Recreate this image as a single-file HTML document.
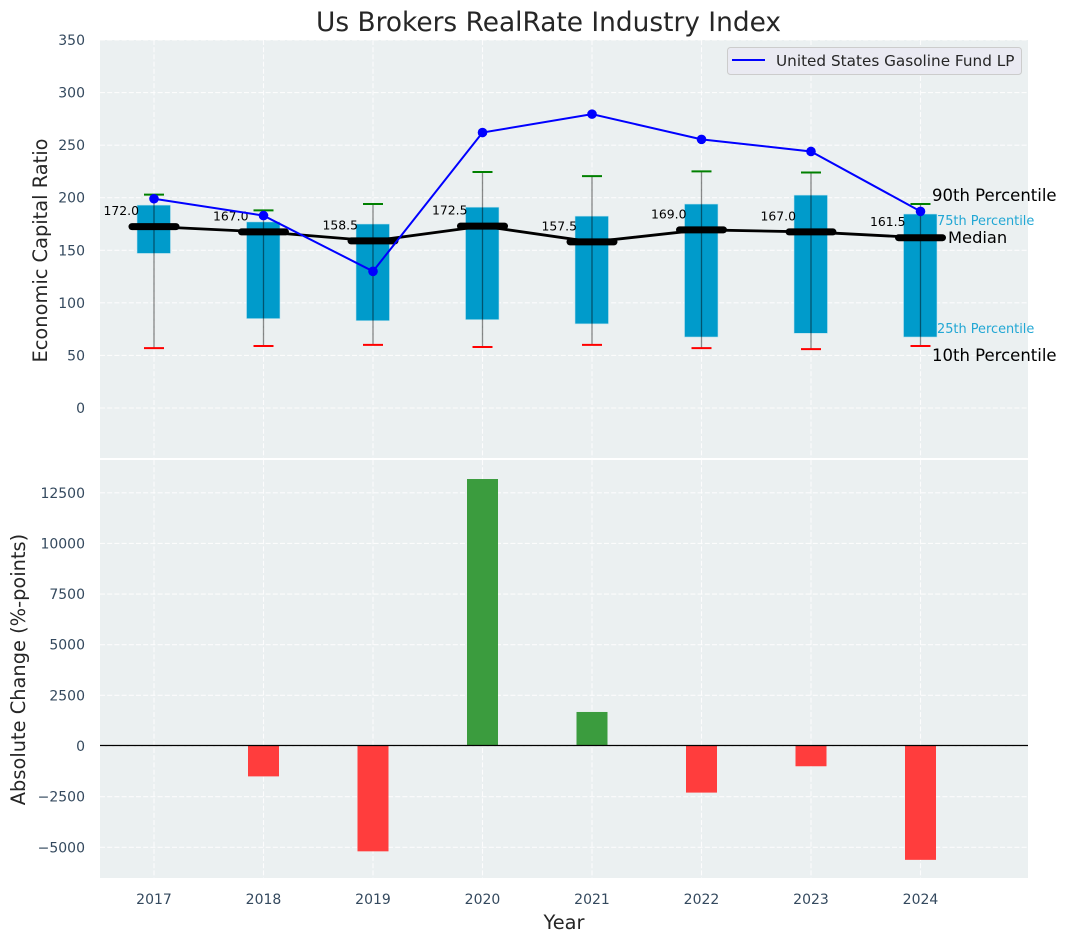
<!DOCTYPE html>
<html lang="en">
<head>
<meta charset="utf-8">
<title>Us Brokers RealRate Industry Index</title>
<style>
html,body{margin:0;padding:0;background:#fff;}
body{width:1067px;height:942px;overflow:hidden;}
svg{display:block;font-family:"DejaVu Sans","Liberation Sans",sans-serif;}
</style>
</head>
<body>
<svg id="chart" xmlns="http://www.w3.org/2000/svg" width="1067" height="942" viewBox="0 0 1067 942">
  <rect x="100" y="40" width="928" height="418" fill="#ebf0f1"/>
  <rect x="100" y="460" width="928" height="418" fill="#ebf0f1"/>
  <g id="grid"></g>
  <g id="marks"></g>
  <g id="labels"></g>
  <text x="548.5" y="31" font-size="26.4px" fill="#262626" text-anchor="middle">Us Brokers RealRate Industry Index</text>
  <text transform="translate(47,250.5) rotate(-90)" font-size="19.4px" fill="#262626" text-anchor="middle">Economic Capital Ratio</text>
  <text transform="translate(25,669.5) rotate(-90)" font-size="19.4px" fill="#262626" text-anchor="middle">Absolute Change (%-points)</text>
  <text x="564" y="929" font-size="19.4px" fill="#262626" text-anchor="middle">Year</text>
  <g>
    <rect x="727.5" y="47.5" width="294" height="27" rx="3" fill="#eaeaf2" stroke="#cccccc" stroke-width="1"/>
    <line x1="732" y1="60" x2="765" y2="60" stroke="#0000ff" stroke-width="2"/>
    <text x="776" y="66" font-size="15.25px" fill="#262626">United States Gasoline Fund LP</text>
  </g>
  <g>
    <text x="932" y="201" font-size="16.5px" fill="#000">90th Percentile</text>
    <text x="937" y="225" font-size="12.9px" fill="#22a7d4">75th Percentile</text>
    <text x="948" y="243" font-size="16.3px" fill="#000">Median</text>
    <text x="937" y="333" font-size="12.9px" fill="#22a7d4">25th Percentile</text>
    <text x="932" y="361" font-size="16.5px" fill="#000">10th Percentile</text>
  </g>
</svg>
<script>
const years = [2017, 2018, 2019, 2020, 2021, 2022, 2023, 2024];
const p90 = [203, 188, 194, 224.5, 220.5, 225, 224, 194];
const p75 = [193, 177, 175, 191, 182.5, 194, 202.5, 184.5];
const median = [172, 167, 158.5, 172.5, 157.5, 169, 167, 161.5];
const p25 = [147, 85, 83, 84, 80, 67.5, 71, 67.5];
const p10 = [57, 59, 60, 58, 60, 57, 56, 59];
const fund = [199, 183, 130, 262, 279.5, 255.5, 244, 187];
const change = [0, -1500, -5200, 13180, 1680, -2300, -1000, -5620];
const topTicks = [0, 50, 100, 150, 200, 250, 300, 350];
const bottomTicks = [-5000, -2500, 0, 2500, 5000, 7500, 10000, 12500];

const NS = 'http://www.w3.org/2000/svg';
const gridG = document.getElementById('grid');
const marksG = document.getElementById('marks');
const labelsG = document.getElementById('labels');

function xAt(year) { return 154 + (year - 2017) * 109.5; }
function yTop(v) { return 408 - v * 1.0514; }
function yBottom(v) { return 746 - v * 0.020257; }
function yMedian(v) { return yTop(v) - 0.5; }

function make(parent, tag, attrs, text) {
  const el = document.createElementNS(NS, tag);
  for (const k in attrs) el.setAttribute(k, attrs[k]);
  if (text !== undefined) el.textContent = text;
  parent.appendChild(el);
  return el;
}
function fmt(v) { return v < 0 ? '\u2212' + Math.abs(v) : String(v); }

const gridStyle = { stroke: '#ffffff', 'stroke-width': 1.1, 'stroke-dasharray': '5 2.2', opacity: 0.85 };

topTicks.forEach(function (t) {
  const y = yTop(t);
  const line = make(gridG, 'line', Object.assign({ x1: 100, x2: 1028, y1: y, y2: y }, gridStyle));
  
  
  const lab = make(labelsG, 'text', { x: 85, y: y + 5, 'font-size': '14px', fill: '#34495e', 'text-anchor': 'end' }, fmt(t));
  
  
});

bottomTicks.forEach(function (t) {
  const y = yBottom(t);
  const line = make(gridG, 'line', Object.assign({ x1: 100, x2: 1028, y1: y, y2: y }, gridStyle));
  
  
  const lab = make(labelsG, 'text', { x: 85, y: y + 5, 'font-size': '14px', fill: '#34495e', 'text-anchor': 'end' }, fmt(t));
  
  
});

years.forEach(function (yr) {
  const x = xAt(yr);
  const a = make(gridG, 'line', Object.assign({ x1: x, x2: x, y1: 40, y2: 458 }, gridStyle));
  
  
  const b = make(gridG, 'line', Object.assign({ x1: x, x2: x, y1: 460, y2: 878 }, gridStyle));
  
  
  const lab = make(labelsG, 'text', { x: x, y: 904, 'font-size': '14px', fill: '#34495e', 'text-anchor': 'middle' }, String(yr));
  
  
});

/* Interquartile boxes */
years.forEach(function (yr, i) {
  const x = xAt(yr);
  const box = make(marksG, 'rect', {
    x: x - 17, y: yTop(p75[i]), width: 33.5, height: yTop(p25[i]) - yTop(p75[i]),
    fill: '#009bcb', stroke: '#bfe3ef', 'stroke-width': 0.6
  });
  
  
});

/* Whiskers and caps */
years.forEach(function (yr, i) {
  const x = xAt(yr);
  const w = make(marksG, 'line', { x1: x, x2: x, y1: yTop(p90[i]), y2: yTop(p10[i]), stroke: '#000', 'stroke-width': 1.3, opacity: 0.45 });
  
  
  const hi = make(marksG, 'line', { x1: x - 10, x2: x + 10, y1: yTop(p90[i]), y2: yTop(p90[i]), stroke: '#008000', 'stroke-width': 2 });
  
  
  const lo = make(marksG, 'line', { x1: x - 10, x2: x + 10, y1: yTop(p10[i]), y2: yTop(p10[i]), stroke: '#ff0000', 'stroke-width': 2 });
  
  
});

/* Median line, thick segments, labels */
const medLine = make(marksG, 'polyline', {
  points: years.map(function (yr, i) { return xAt(yr) + ',' + yMedian(median[i]); }).join(' '),
  fill: 'none', stroke: '#000', 'stroke-width': 2.8
});



years.forEach(function (yr, i) {
  const x = xAt(yr);
  const y = yMedian(median[i]);
  const seg = make(marksG, 'line', { x1: x - 22, x2: x + 22, y1: y, y2: y, stroke: '#000', 'stroke-width': 7, 'stroke-linecap': 'round' });
  
  
  const lab = make(marksG, 'text', { x: x - 15, y: y - 11.5, 'font-size': '12.4px', fill: '#000', 'text-anchor': 'end' }, median[i].toFixed(1));
  
  
});

/* Fund line */
const fundLine = make(marksG, 'polyline', {
  points: years.map(function (yr, i) { return xAt(yr) + ',' + yTop(fund[i]); }).join(' '),
  fill: 'none', stroke: '#0000ff', 'stroke-width': 2
});



years.forEach(function (yr, i) {
  const pt = make(marksG, 'circle', { cx: xAt(yr), cy: yTop(fund[i]), r: 4.8, fill: '#0000ff' });
  
  
});

/* Change bars */
years.forEach(function (yr, i) {
  const x = xAt(yr);
  const v = change[i];
  const y0 = yBottom(0);
  const y1 = yBottom(v);
  const bar = make(marksG, 'rect', {
    x: x - 15.5, y: Math.min(y0, y1), width: 31, height: Math.abs(y1 - y0),
    fill: v >= 0 ? '#3b9c3e' : '#ff3d3d'
  });
  
  
});

const zero = make(marksG, 'line', { x1: 100, x2: 1028, y1: yBottom(0) - 0.5, y2: yBottom(0) - 0.5, stroke: '#000', 'stroke-width': 1.2 });


</script>
</body>
</html>
